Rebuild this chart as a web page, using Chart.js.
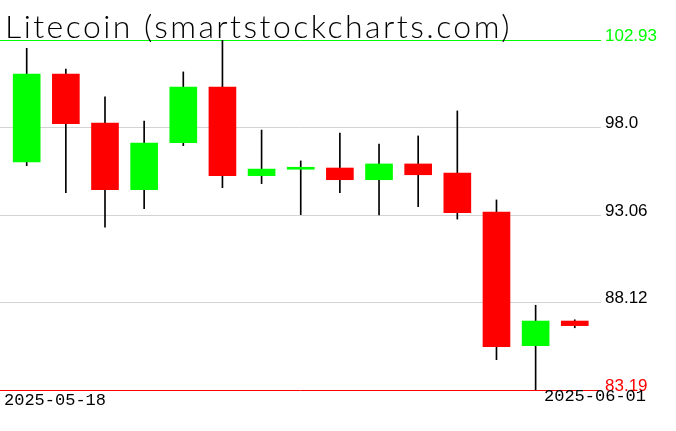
<!DOCTYPE html>
<html>
<head>
<meta charset="utf-8">
<title>Litecoin</title>
<script src="https://cdn.jsdelivr.net/npm/chart.js@4"></script>
<style>
  html, body { margin: 0; padding: 0; background: #fff; }
  #wrap { width: 676px; height: 431px; }
</style>
</head>
<body>
<div id="wrap"><canvas id="chart" width="676" height="431"></canvas></div>
<script>
const chartTitle = 'Litecoin (smartstockcharts.com)';
const dates = ['2025-05-18', '2025-05-19', '2025-05-20', '2025-05-21', '2025-05-22',
  '2025-05-23', '2025-05-24', '2025-05-25', '2025-05-26', '2025-05-27',
  '2025-05-28', '2025-05-29', '2025-05-30', '2025-05-31', '2025-06-01'];
const opens  = [96.05, 101.01, 98.25, 94.49, 97.14, 100.28, 95.28, 95.64, 95.71, 95.05, 95.94, 95.43, 93.23, 85.69, 87.08];
const highs  = [102.46, 101.29, 99.72, 98.36, 101.13, 102.93, 97.85, 96.11, 97.68, 97.06, 97.52, 98.93, 93.91, 87.97, 87.15];
const lows   = [95.84, 94.32, 92.37, 93.42, 96.97, 94.60, 94.83, 93.08, 94.32, 93.06, 93.53, 92.83, 84.90, 83.19, 86.70];
const closes = [101.01, 98.21, 94.49, 97.12, 100.28, 95.28, 95.65, 95.64, 95.05, 95.94, 95.33, 93.19, 85.63, 87.08, 86.82];
const yTicks = [83.19, 88.12, 93.06, 98.0, 102.93];
const yTickLabels = ['83.19', '88.12', '93.06', '98.0', '102.93'];

const UP = '#00ff00';
const DOWN = '#ff0000';

const bodies = dates.map((d, i) => ({ x: i, y: [opens[i], closes[i]] }));
const wicks = dates.map((d, i) => ({ x: i, y: [lows[i], highs[i]] }));
const bodyColors = dates.map((d, i) => closes[i] >= opens[i] ? UP : DOWN);

function tickColor(v) {
  if (v === yTicks[yTicks.length - 1]) return UP;
  if (v === yTicks[0]) return DOWN;
  return null;
}

// title and the two date labels
const textPlugin = {
  id: 'texts',
  afterDraw(chart) {
    const ctx = chart.ctx;
    const area = chart.chartArea;
    ctx.save();
    ctx.fillStyle = '#000';
    ctx.textBaseline = 'alphabetic';
    ctx.textAlign = 'left';
    ctx.font = '300 32px Lato';
    ctx.letterSpacing = '0px';
    const w0 = ctx.measureText(chartTitle).width;
    const sp = (507 - w0) / chartTitle.length;
    ctx.letterSpacing = sp + 'px';
    ctx.fillText(chartTitle, area.left + 5, 38);
    ctx.letterSpacing = '0px';

    ctx.font = '17px "Liberation Mono"';
    ctx.textBaseline = 'middle';
    ctx.fillText(dates[0], area.left + 4, 400);
    ctx.textAlign = 'right';
    ctx.fillText(dates[dates.length - 1], chart.width - 30, 396);
    ctx.restore();
  }
};

new Chart(document.getElementById('chart'), {
  type: 'bar',
  data: {
    datasets: [
      {
        label: 'body',
        data: bodies,
        backgroundColor: bodyColors,
        barThickness: 27,
        minBarLength: 2,
        grouped: false,
        order: 0
      },
      {
        label: 'wick',
        data: wicks,
        backgroundColor: '#000',
        barThickness: 1,
        grouped: false,
        order: 1
      }
    ]
  },
  options: {
    responsive: false,
    animation: false,
    layout: { padding: { top: 40, bottom: 41, left: 0, right: 0 } },
    plugins: {
      legend: { display: false },
      tooltip: { enabled: false },
      title: { display: false }
    },
    scales: {
      x: {
        type: 'linear',
        display: false,
        offset: false,
        min: -0.682,
        max: 14.67
      },
      y: {
        position: 'right',
        min: yTicks[0],
        max: yTicks[yTicks.length - 1],
        afterBuildTicks: scale => { scale.ticks = yTicks.map(v => ({ value: v })); },
        afterFit: scale => { scale.width = 75; },
        border: { display: false },
        grid: {
          drawTicks: false,
          lineWidth: 1,
          color: c => tickColor(c.tick.value) || '#d3d3d3'
        },
        ticks: {
          padding: 4,
          labelOffset: -4,
          font: { family: '"Liberation Sans"', size: 17 },
          color: c => tickColor(c.tick.value) || '#000',
          callback: (v, i) => yTickLabels[i]
        }
      }
    }
  },
  plugins: [textPlugin]
});
</script>
</body>
</html>
